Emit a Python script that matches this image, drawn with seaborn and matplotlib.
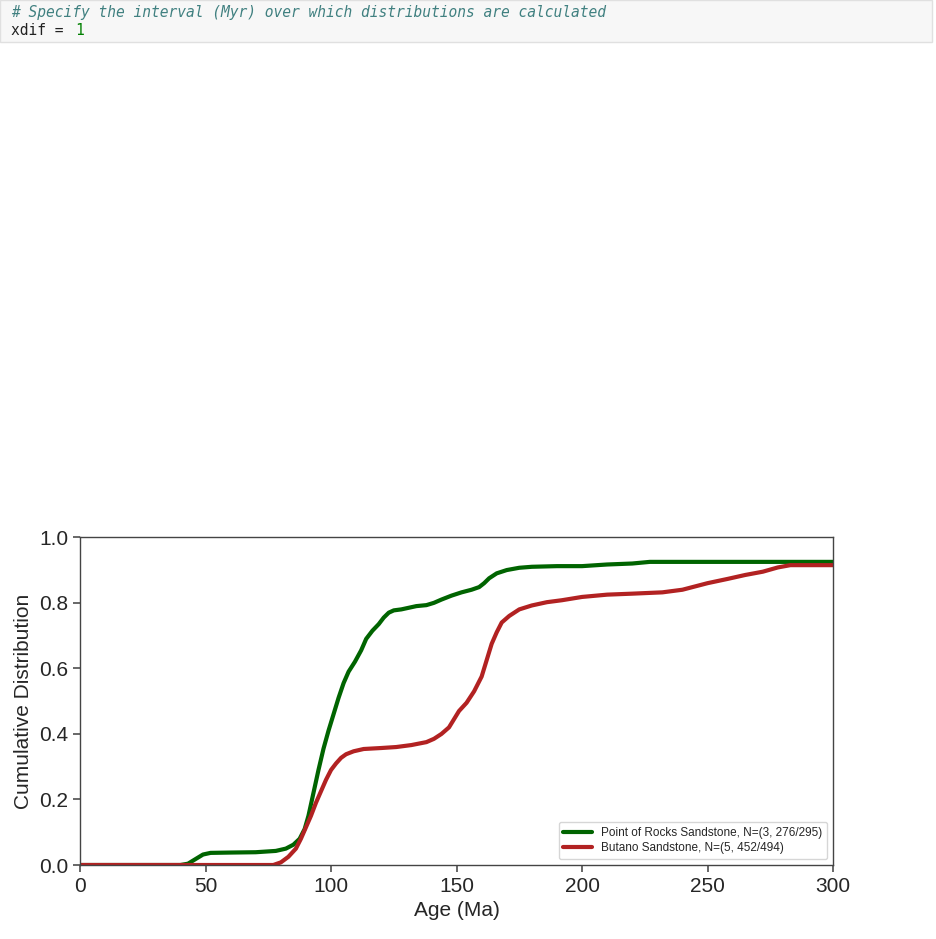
import matplotlib
matplotlib.use("Agg")
import matplotlib.pyplot as plt
import pandas as pd
import seaborn as sns
from matplotlib.patches import Rectangle

# cumulative age distributions
rocks_age = [0, 40, 43, 46, 49, 52, 60, 70, 78, 82, 85, 87.5, 89.5, 91, 93, 95, 97,
             99, 101, 103, 105, 107, 109.5, 112, 114, 116.5, 119, 121, 123, 125,
             128, 131, 134, 138, 141, 144, 148, 152, 156, 159, 161, 163, 166, 170,
             175, 180, 190, 200, 210, 220, 227, 300]
rocks_cdf = [0, 0, 0.004, 0.018, 0.032, 0.037, 0.038, 0.039, 0.043, 0.05, 0.062,
             0.08, 0.11, 0.15, 0.22, 0.29, 0.355, 0.41, 0.46, 0.51, 0.555, 0.59,
             0.62, 0.655, 0.69, 0.715, 0.735, 0.755, 0.77, 0.777, 0.78, 0.785,
             0.79, 0.793, 0.80, 0.81, 0.822, 0.832, 0.84, 0.848, 0.86, 0.875,
             0.89, 0.90, 0.907, 0.91, 0.912, 0.912, 0.917, 0.92, 0.925, 0.925]

butano_age = [0, 77, 80, 83, 86, 88, 90, 92, 94, 96, 98, 100, 102, 104, 106, 109,
              113, 120, 126, 132, 138, 141, 144, 147, 149, 151, 154, 157, 160, 162,
              164, 166, 168, 171, 175, 180, 186, 192, 200, 210, 220, 232, 240, 245,
              250, 258, 265, 272, 278, 283, 300]
butano_cdf = [0, 0, 0.008, 0.025, 0.05, 0.08, 0.115, 0.15, 0.19, 0.225, 0.26, 0.29,
              0.31, 0.327, 0.338, 0.347, 0.354, 0.357, 0.36, 0.366, 0.375, 0.385,
              0.40, 0.42, 0.445, 0.47, 0.495, 0.53, 0.575, 0.625, 0.675, 0.71,
              0.74, 0.76, 0.78, 0.792, 0.802, 0.808, 0.818, 0.825, 0.828, 0.832,
              0.84, 0.85, 0.86, 0.873, 0.885, 0.895, 0.908, 0.915, 0.915]

labels = ["Point of Rocks Sandstone, N=(3, 276/295)",
          "Butano Sandstone, N=(5, 452/494)"]
colors = ["darkgreen", "firebrick"]

sns.set_theme(style="ticks")
plt.rcParams["font.family"] = ["Liberation Sans", "DejaVu Sans"]

fig = plt.figure(figsize=(9.36, 9.39), dpi=100)

# notebook code cell above the chart
fig.patches.append(Rectangle((0.0, 0.955), 0.996, 0.045, transform=fig.transFigure,
                             facecolor="#f7f7f7", edgecolor="#e0e0e0", lw=1))
mono = dict(family="DejaVu Sans Mono", fontsize=10.5, va="center")
fig.text(0.012, 0.987, "# Specify the interval (Myr) over which distributions are calculated",
         style="italic", color="#408080", **mono)
fig.text(0.012, 0.967, "xdif =", color="#222222", **mono)
fig.text(0.080, 0.967, "1", color="#008000", **mono)

ax = fig.add_axes([0.0855, 0.0788, 0.8045, 0.349])

df = pd.concat([
    pd.DataFrame({"age": rocks_age, "cdf": rocks_cdf, "sample": labels[0]}),
    pd.DataFrame({"age": butano_age, "cdf": butano_cdf, "sample": labels[1]}),
])
sns.lineplot(data=df, x="age", y="cdf", hue="sample", palette=colors, lw=3,
             sort=False, ax=ax)

ax.set_xlim(0, 300)
ax.set_ylim(0, 1)
ax.set_xlabel("Age (Ma)", fontsize=15)
ax.set_ylabel("Cumulative Distribution", fontsize=15)
ax.tick_params(labelsize=15, color="#555555", length=5)
for s in ax.spines.values():
    s.set_color("#444444")
    s.set_linewidth(1)
ax.legend(loc="lower right", fontsize=8.5, frameon=True, handlelength=2.4,
          borderpad=0.4, labelspacing=0.3, title=None)

fig.savefig("out.png", dpi=100)
